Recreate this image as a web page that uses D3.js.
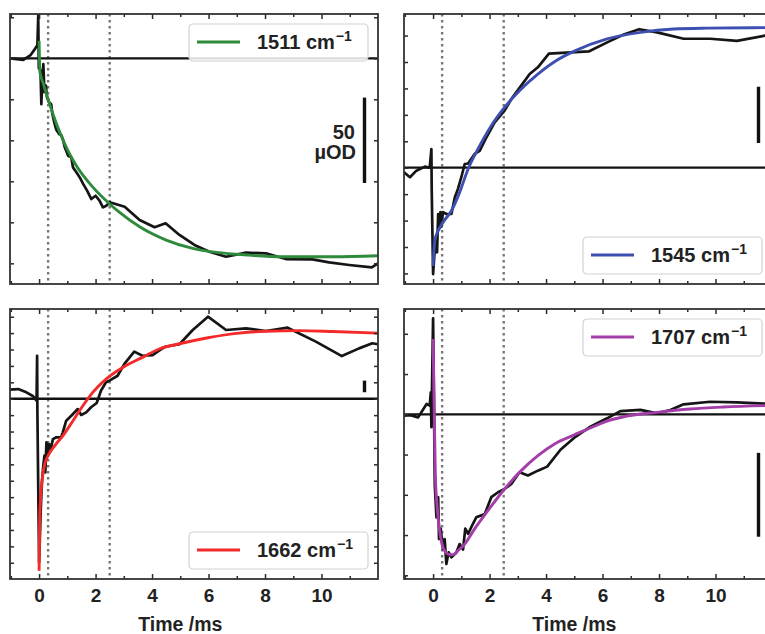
<!DOCTYPE html>
<html>
<head>
<meta charset="utf-8">
<script src="https://cdn.jsdelivr.net/npm/d3@7"></script>
<style>
  body { margin: 0; background: #fff; }
  svg { display: block; font-family: "Liberation Sans", Arial, Helvetica, sans-serif; }
</style>
</head>
<body>
<svg id="chart" width="765" height="634"></svg>
<script>
// ---- data (time in ms, signal in µOD) ----
const xMajorTicks = [0, 2, 4, 6, 8, 10];
const xMinorTicks = [-1, 1, 3, 5, 7, 9, 11];
const dottedTimes = [0.32, 2.5];
const xLabel = "Time /ms";

const wavenumbers = ["1511", "1545", "1662", "1707"];
const fitColors = ["#2e8b3c", "#3d4fb0", "#f42a2a", "#a33da8"];

const trace1511 = [[-1.03,0],[-0.56,-1],[-0.3,2],[-0.15,5.6],[-0.06,8],[-0.03,26],[-0.01,-6],
  [0.05,-7.5],[0.08,-28],[0.12,-11],[0.15,-3.5],[0.19,-20.7],[0.24,-16.6],[0.28,-23.8],[0.35,-26.8],
  [0.43,-28],[0.47,-34],[0.55,-40],[0.61,-43.6],[0.71,-46.2],[0.79,-47],[0.85,-49.8],[0.91,-54.3],
  [1.03,-59.4],[1.14,-60.4],[1.2,-66.5],[1.32,-69.5],[1.44,-72.6],[1.56,-76.6],[1.7,-80.7],[1.85,-85.8],
  [2.0,-83.8],[2.14,-86.8],[2.26,-90.9],[2.38,-89.9],[2.5,-87.8],[3.03,-90.5],[3.56,-98.6],[4.09,-103],
  [4.48,-100.6],[4.97,-107.7],[5.5,-113.8],[6.03,-117.9],[6.62,-121],[7.33,-118.5],[8.03,-118.9],
  [8.74,-122.4],[9.68,-122.6],[10.27,-124.4],[10.98,-126],[11.78,-127.5],[12.0,-125]];
const fit1511 = [[0,10.7],[0.03,-8.5],[0.14,-15],[0.32,-25],[0.49,-34],[0.73,-45],[1.02,-56.3],
  [1.32,-65.5],[1.91,-78.7],[2.5,-88.8],[2.85,-94],[3.56,-102.7],[4.5,-110.8],[5.44,-115.9],
  [6.27,-118.3],[7.44,-120],[8.62,-121],[10.39,-121],[12.0,-120.4]];

const trace1545 = [[-1.03,-4.4],[-0.82,-9],[-0.59,-2.8],[-0.29,1],[-0.12,0],[-0.06,17.7],[-0.05,-18.5],
  [0,-100.6],[0.08,-69],[0.14,-80],[0.18,-43.8],[0.21,-58],[0.26,-42],[0.29,-56],[0.35,-42],[0.47,-43.8],
  [0.65,-43.8],[0.77,-28],[0.88,-20],[1.0,-9],[1.12,3.5],[1.24,4],[1.47,13],[1.65,16],[1.89,28.8],
  [2.18,43],[2.53,54],[2.77,65],[3.12,77.6],[3.42,88.6],[3.71,95],[4.1,108],[5.51,110],[6.2,119],
  [6.75,126],[7.3,131],[7.93,128],[8.87,122],[9.81,122],[10.76,120],[11.76,125],[12.0,125]];
const fit1545 = [[0,-93],[0.06,-69],[0.18,-59.6],[0.35,-51.7],[0.65,-40.7],[0.94,-23.3],[1.24,-1.2],
  [1.59,17.7],[2.06,39.7],[2.53,57],[3.12,74.5],[3.71,88.6],[4.3,100.3],[4.98,110],[6.16,121.8],
  [7.34,128],[8.52,131.2],[9.69,132],[12.0,132.5]];

const trace1662 = [[-1.03,55],[-0.74,59],[-0.45,39],[-0.21,15],[-0.09,-12],[-0.07,262],[-0.06,-83],
  [0,-998],[0.06,-672],[0.1,-510],[0.15,-408],[0.19,-347],[0.22,-449],[0.26,-266],[0.31,-327],
  [0.35,-276],[0.41,-307],[0.49,-246],[0.61,-235],[0.78,-235],[0.84,-205],[0.96,-134],[1.14,-104],
  [1.37,-63],[1.49,-99],[1.67,-83],[1.84,-52],[2.04,-26],[2.19,49],[2.37,100],[2.49,110],[2.78,140],
  [3.02,212],[3.37,287],[3.66,262],[4.02,266],[4.25,293],[4.47,317],[4.97,332],[5.44,419],[5.98,500],
  [6.62,419],[7.33,429],[8.03,413],[8.8,433],[9.8,348],[10.72,260],[11.33,307],[11.8,338],[12.0,332]];
const fit1662 = [[0,-1049],[0.02,-754],[0.06,-591],[0.12,-479],[0.2,-398],[0.32,-347],[0.55,-287],
  [0.84,-226],[1.2,-134],[1.55,-43],[1.9,39],[2.37,120],[2.96,191],[3.66,252],[4.25,303],[4.97,335],
  [5.98,372],[7.09,400],[8.03,411],[9.21,415],[10.39,410],[12.0,400]];

const trace1707 = [[-1.03,-0.9],[-0.8,-0.5],[-0.53,-1.9],[-0.23,6.4],[-0.12,5.4],[-0.08,13.7],
  [-0.06,-8],[0,59.6],[0.06,-44],[0.12,-64],[0.18,-51.5],[0.21,-77.5],[0.27,-71],[0.35,-83.7],
  [0.41,-77.5],[0.47,-93],[0.55,-85.7],[0.65,-88.8],[0.82,-86],[0.94,-80.6],[1.06,-84],[1.14,-71],
  [1.24,-74.3],[1.41,-68],[1.53,-64],[1.83,-62],[2.06,-51.5],[2.3,-48.4],[2.53,-46.4],[2.77,-43.3],
  [3.06,-36],[3.36,-38],[3.71,-35],[4.04,-32.5],[4.51,-22],[5.04,-14],[5.57,-7.7],[6.16,-2.5],
  [6.63,2],[7.34,2.7],[7.93,0.6],[8.4,2.7],[8.87,6.2],[9.81,7.8],[10.76,7.4],[11.76,6.6],[12.0,6.5]];
const fit1707 = [[0,46.8],[0.04,3.3],[0.08,-38],[0.15,-58.8],[0.24,-73.3],[0.35,-82.6],[0.53,-86.8],
  [0.71,-87.2],[0.88,-84.7],[1.12,-80.6],[1.47,-71.2],[1.94,-59.9],[2.53,-46.4],[3.12,-35],
  [3.71,-25.7],[4.3,-18.4],[4.98,-12.9],[5.57,-8.5],[6.16,-4.2],[6.75,-1.5],[7.93,1.2],[9.1,3.3],
  [10.28,4.5],[12.0,5.5]];

// y ranges (µOD), y tick step and 50 µOD scale bar position per panel
const yDomains = [[-137.6, 27], [-110, 145.4], [-1099, 547], [-102.3, 65.4]];
const yTickSteps = [25, 25, 100, 25];
const scaleBars = [[-75, -25], [25, 75], [50, 100], [-75, -25]];
const scaleBarText = ["50", "µOD"];

// ---- layout ----
const svg = d3.select("#chart");
const W = 368, H = 270;
const xDomain = [-1.03, 12];
const panels = [
  { left: 10,  top: 14,  trace: trace1511, fit: fit1511, legendY: 10,  labels: false, barText: true },
  { left: 404, top: 14,  trace: trace1545, fit: fit1545, legendY: 223, labels: false, barText: false },
  { left: 10,  top: 309, trace: trace1662, fit: fit1662, legendY: 223, labels: true,  barText: false },
  { left: 404, top: 309, trace: trace1707, fit: fit1707, legendY: 10,  labels: true,  barText: false }
];

panels.forEach((p, i) => {
  const g = svg.append("g").attr("transform", `translate(${p.left},${p.top})`);
  const x = d3.scaleLinear().domain(xDomain).range([0, W]);
  const y = d3.scaleLinear().domain(yDomains[i]).range([H, 0]);

  g.append("clipPath").attr("id", "clip" + i)
    .append("rect").attr("width", W).attr("height", H);
  const plot = g.append("g").attr("clip-path", `url(#clip${i})`);

  // dotted guide lines
  dottedTimes.forEach(t => {
    plot.append("line")
      .attr("x1", x(t)).attr("x2", x(t)).attr("y1", 0).attr("y2", H)
      .attr("stroke", "#777").attr("stroke-width", 2.4).attr("stroke-dasharray", "2.4,3.6");
  });

  // zero line
  plot.append("line")
    .attr("x1", 0).attr("x2", W).attr("y1", y(0)).attr("y2", y(0))
    .attr("stroke", "#111").attr("stroke-width", 2.3);

  // measured trace
  const line = d3.line().x(d => x(d[0])).y(d => y(d[1]));
  plot.append("path").datum(p.trace)
    .attr("d", line).attr("fill", "none")
    .attr("stroke", "#151515").attr("stroke-width", 2.7).attr("stroke-linejoin", "round");

  // fit
  const fitLine = d3.line().x(d => x(d[0])).y(d => y(d[1])).curve(d3.curveMonotoneX);
  plot.append("path").datum(p.fit)
    .attr("d", fitLine).attr("fill", "none")
    .attr("stroke", fitColors[i]).attr("stroke-width", 2.9);

  // scale bar
  const bar = scaleBars[i];
  g.append("line")
    .attr("x1", 354.5).attr("x2", 354.5).attr("y1", y(bar[0])).attr("y2", y(bar[1]))
    .attr("stroke", "#111").attr("stroke-width", 3.4).attr("stroke-linecap", "square");
  if (p.barText) {
    g.append("text").attr("x", 345).attr("y", y(bar[1]) + 40).attr("text-anchor", "end")
      .attr("font-size", 20).attr("font-weight", "bold").attr("fill", "#222").text(scaleBarText[0]);
    g.append("text").attr("x", 346).attr("y", y(bar[1]) + 60).attr("text-anchor", "end")
      .attr("font-size", 20).attr("font-weight", "bold").attr("fill", "#222").text(scaleBarText[1]);
  }

  // ticks: inward on all four sides
  const yStep = yTickSteps[i];
  const yTicks = d3.range(Math.ceil(yDomains[i][0] / yStep) * yStep, yDomains[i][1], yStep);
  const axes = [
    [d3.axisBottom(x).tickValues(xMajorTicks).tickSize(-5), `translate(0,${H})`, p.labels],
    [d3.axisBottom(x).tickValues(xMinorTicks).tickSize(-3), `translate(0,${H})`, false],
    [d3.axisTop(x).tickValues(xMajorTicks).tickSize(-5), null, false],
    [d3.axisTop(x).tickValues(xMinorTicks).tickSize(-3), null, false],
    [d3.axisLeft(y).tickValues(yTicks).tickSize(-4), null, false],
    [d3.axisRight(y).tickValues(yTicks).tickSize(-4), `translate(${W},0)`, false]
  ];
  axes.forEach(([ax, tr, showLabels]) => {
    if (showLabels) ax.tickPadding(10).tickFormat(d3.format("d"));
    else ax.tickFormat("");
    const a = g.append("g").call(ax);
    if (tr) a.attr("transform", tr);
    a.select(".domain").remove();
    a.selectAll("line").attr("stroke", "#2a2a2a").attr("stroke-width", 1.5);
    a.selectAll("text").attr("font-size", 19).attr("font-weight", "bold")
      .attr("fill", "#222").attr("font-family", null);
  });
  if (p.labels) {
    g.append("text").attr("x", x(5)).attr("y", H + 52).attr("text-anchor", "middle")
      .attr("font-size", 19.5).attr("font-weight", "bold").attr("fill", "#222").text(xLabel);
  }

  // frame
  g.append("rect").attr("width", W).attr("height", H)
    .attr("fill", "none").attr("stroke", "#333").attr("stroke-width", 1.8);

  // legend
  const lg = g.append("g").attr("transform", `translate(179,${p.legendY})`);
  lg.append("rect").attr("width", 179).attr("height", 37).attr("rx", 4)
    .attr("fill", "#fff").attr("fill-opacity", 0.85).attr("stroke", "#d2d2d2").attr("stroke-width", 1.2);
  lg.append("line").attr("x1", 8).attr("x2", 51).attr("y1", 18).attr("y2", 18)
    .attr("stroke", fitColors[i]).attr("stroke-width", 2.9);
  const lt = lg.append("text").attr("x", 68).attr("y", 25)
    .attr("font-size", 20).attr("font-weight", "bold").attr("fill", "#222");
  lt.append("tspan").text(wavenumbers[i] + " cm");
  lt.append("tspan").attr("dy", -8).attr("dx", 1).attr("font-size", 14).text("\u22121");
});
</script>
</body>
</html>
